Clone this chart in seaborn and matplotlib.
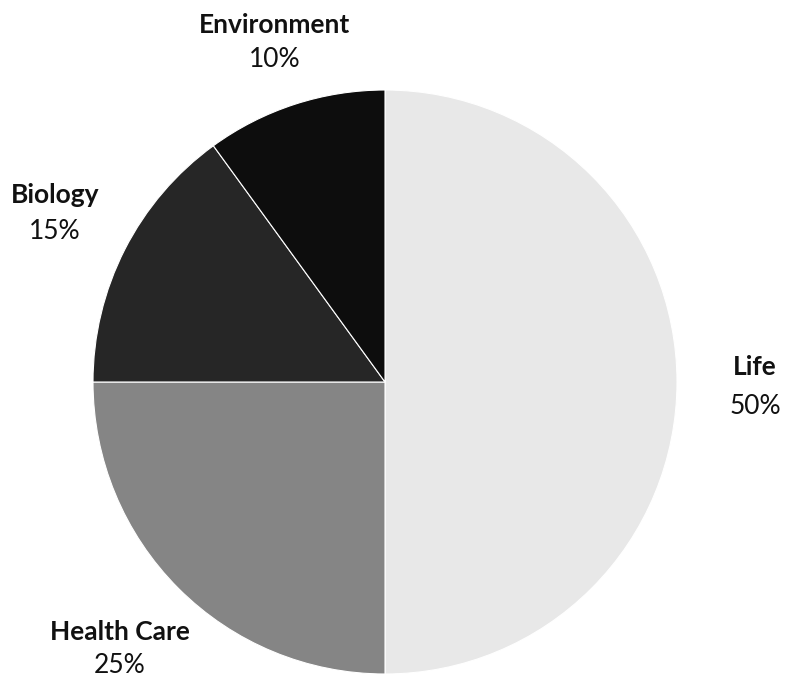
import matplotlib
matplotlib.use("Agg")
import matplotlib.pyplot as plt
import seaborn as sns

# data
categories = ["Life", "Health Care", "Biology", "Environment"]
shares = [50, 25, 15, 10]
slice_colors = ["#e8e8e8", "#858585", "#262626", "#0d0d0d"]

# label anchor points (data units of the pie axes)
label_pos = {
    "Life": (1.267, 0.05, -0.085),
    "Health Care": (-0.908, -0.855, -0.97),
    "Biology": (-1.13, 0.64, 0.514),
    "Environment": (-0.377, 1.223, 1.103),
}

sns.set_theme(style="white")
plt.rcParams["font.family"] = ["Lato", "DejaVu Sans"]

fig = plt.figure(figsize=(8.01, 6.77), dpi=100)
ax = fig.add_axes([93 / 801, 3 / 677, 584 / 801, 584 / 677])

ax.pie(shares, colors=slice_colors, startangle=90, counterclock=False,
       radius=1.0, wedgeprops={"edgecolor": "white", "linewidth": 0.8})
ax.set_xlim(-1, 1)
ax.set_ylim(-1, 1)
ax.set_aspect("equal")
ax.axis("off")

for name, pct in zip(categories, shares):
    x, y1, y2 = label_pos[name]
    ax.text(x, y1, name, ha="center", va="center", fontsize=19,
            fontweight="bold", color="#111111", clip_on=False)
    ax.text(x, y2, f"{pct}%", ha="center", va="center", fontsize=19,
            color="#111111", clip_on=False)

fig.savefig("out.png", dpi=100)
